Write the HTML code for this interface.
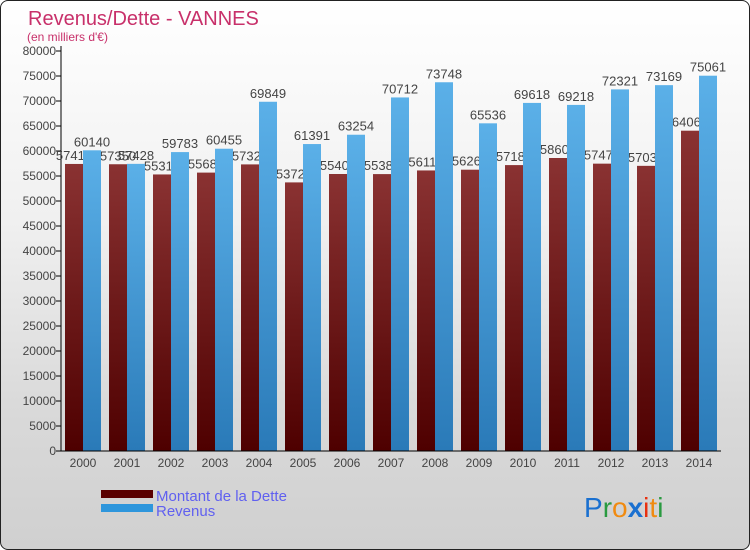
<!DOCTYPE html>
<html><head><meta charset="utf-8">
<style>
html,body{margin:0;padding:0;}
body{width:750px;height:550px;overflow:hidden;font-family:"Liberation Sans",sans-serif;}
#wrap{position:absolute;left:0;top:0;width:748px;height:548px;border:1px solid #222;border-radius:8px;
background:linear-gradient(#ffffff 0%,#f0f0f0 40%,#d9d9d9 75%,#d0d0d0 100%);overflow:hidden;}
</style></head><body>
<div id="wrap">
<svg id="chart" width="750" height="550" style="position:absolute;left:0;top:0" font-family="Liberation Sans, sans-serif">
<defs>
<linearGradient id="gm" x1="0" y1="0" x2="0" y2="1"><stop offset="0" stop-color="#8a3232"/><stop offset="1" stop-color="#4e0000"/></linearGradient>
<linearGradient id="gb" x1="0" y1="0" x2="0" y2="1"><stop offset="0" stop-color="#5bb0e8"/><stop offset="1" stop-color="#2a7ab8"/></linearGradient>
</defs>
<text x="27" y="24" font-size="20" fill="#c8306a">Revenus/Dette - VANNES</text>
<text x="26" y="40" font-size="12" fill="#c8306a">(en milliers d'€)</text>
<g id="axes"></g>
<g id="bars"></g>
<g>
<rect x="100" y="489" width="52" height="8" fill="#5a0000"/>
<rect x="100" y="503" width="52" height="8" fill="#2e96dc"/>
<text x="155" y="500" font-size="15" fill="#6060f0">Montant de la Dette</text>
<text x="155" y="515" font-size="15" fill="#6060f0">Revenus</text>
</g>
<g font-size="28">
<text x="583" y="516"><tspan fill="#1a70d0">P</tspan><tspan fill="#2a9a40">r</tspan><tspan fill="#f08a10">o</tspan><tspan fill="#1a70d0" font-weight="bold">x</tspan><tspan fill="#e83010">i</tspan><tspan fill="#f08a10">t</tspan><tspan fill="#2a9a40">i</tspan></text>
</g>
</svg>
</div>
<script>
const years=["2000","2001","2002","2003","2004","2005","2006","2007","2008","2009","2010","2011","2012","2013","2014"];
const dette=[57410,57350,55310,55680,57320,53720,55400,55380,56110,56260,57180,58600,57470,57030,64060];
const revenus=[60140,57428,59783,60455,69849,61391,63254,70712,73748,65536,69618,69218,72321,73169,75061];
const yTicks=[0,5000,10000,15000,20000,25000,30000,35000,40000,45000,50000,55000,60000,65000,70000,75000,80000];
const NS="http://www.w3.org/2000/svg";
const x0=60,x1=720,yBase=450,yTop=50,yMax=80000;
const step=(x1-x0)/years.length;
function y(v){return yBase-(v/yMax)*(yBase-yTop);}
function gx(i){return x0+i*step;}
function mk(t,a,p){const e=document.createElementNS(NS,t);for(const k in a)e.setAttribute(k,a[k]);p.appendChild(e);return e;}
const ax=document.getElementById('axes'),bg=document.getElementById('bars');
yTicks.forEach(v=>{
 const l=mk('line',{x1:x0-5,x2:x0,y1:y(v),y2:y(v),stroke:'#000'},ax);
 
 
 const t=mk('text',{x:x0-5,y:y(v)+4,'font-size':12,'text-anchor':'end',fill:'#444'},ax);
 t.textContent=v;
 
 
});
years.forEach((yr,i)=>{
 const t=mk('text',{x:gx(i)+22,y:466,'font-size':12,'text-anchor':'middle',fill:'#444'},ax);
 t.textContent=yr;
 
 
});
const bw=18;
years.forEach((yr,i)=>{
 const xm=gx(i)+4;
 const r1=mk('rect',{x:xm,y:y(dette[i]),width:bw,height:yBase-y(dette[i]),fill:'url(#gm)'},bg);
 
 
 const t1=mk('text',{x:xm+bw/2,y:y(dette[i])-4,'font-size':13,'text-anchor':'middle',fill:'#444'},bg);
 t1.textContent=Math.round(dette[i]);
 
 
});
years.forEach((yr,i)=>{
 const xb=gx(i)+4+bw;
 const r2=mk('rect',{x:xb,y:y(revenus[i]),width:bw,height:yBase-y(revenus[i]),fill:'url(#gb)'},bg);
 
 
 const t2=mk('text',{x:xb+bw/2,y:y(revenus[i])-4,'font-size':13,'text-anchor':'middle',fill:'#444'},bg);
 t2.textContent=revenus[i];
 
 
});
const ya=mk('line',{x1:x0,x2:x0,y1:yTop-5,y2:yBase,stroke:'#000'},ax);


const xa=mk('line',{x1:x0,x2:x1,y1:yBase,y2:yBase,stroke:'#000'},bg);


</script>
</body></html>
